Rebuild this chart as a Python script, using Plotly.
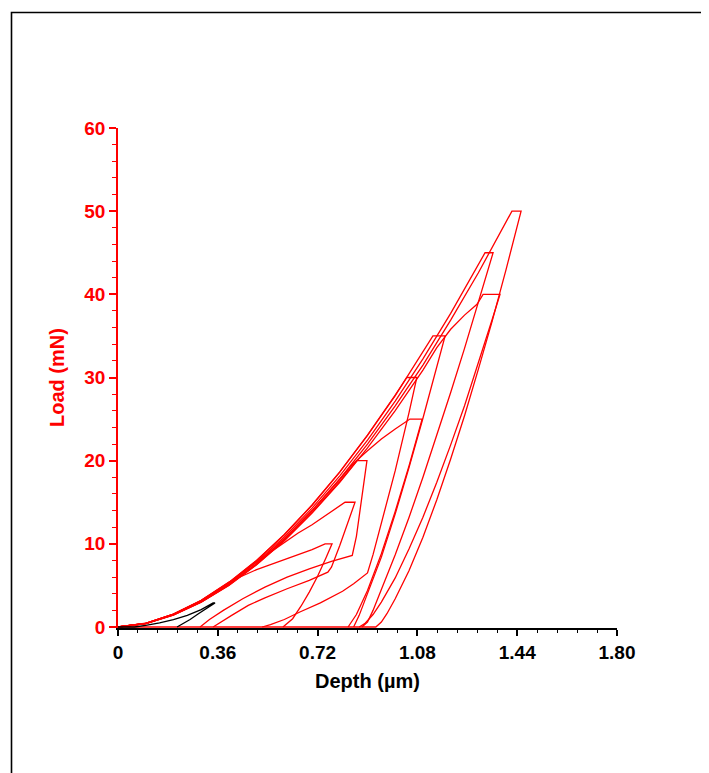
import plotly.graph_objects as go

# ---- data (depth in µm, load in mN) ----
depth_50 = [0, 0.1, 0.2, 0.3, 0.4, 0.5, 0.6, 0.7, 0.8, 0.9, 1.0, 1.1, 1.2, 1.3, 1.421, 1.454,
            1.40, 1.35, 1.30, 1.25, 1.20, 1.15, 1.10, 1.05, 1.00, 0.97, 0.95, 0.93, 0.0]
load_50 = [0, 0.4, 1.5, 3.0, 5.1, 7.6, 10.6, 14.0, 17.8, 22.0, 26.6, 31.5, 36.9, 42.6, 50.0, 50.0,
           43.0, 36.8, 31.0, 25.4, 20.2, 15.3, 10.8, 6.8, 3.4, 1.6, 0.6, 0, 0]

depth_45 = [0, 0.1, 0.2, 0.3, 0.4, 0.5, 0.6, 0.7, 0.8, 0.9, 1.0, 1.1, 1.2, 1.3, 1.324, 1.353,
            1.30, 1.25, 1.20, 1.15, 1.10, 1.05, 1.00, 0.95, 0.92, 0.90, 0.88]
load_45 = [0, 0.43, 1.5, 3.11, 5.22, 7.81, 10.83, 14.29, 18.18, 22.48, 27.16, 32.24, 37.71, 43.56, 45.0, 45.0,
           39.0, 33.5, 28.2, 23.0, 18.0, 13.2, 8.7, 4.5, 2.0, 0.6, 0]

depth_40 = [0, 0.1, 0.2, 0.3, 0.4, 0.5, 0.6, 0.7, 0.8, 0.9, 1.0, 1.1, 1.15, 1.2, 1.25, 1.295, 1.317, 1.378,
            1.35, 1.30, 1.25, 1.20, 1.15, 1.10, 1.05, 1.00, 0.95, 0.92, 0.89, 0.87]
load_40 = [0, 0.41, 1.44, 2.98, 5.0, 7.48, 10.38, 13.69, 17.41, 21.53, 26.02, 30.89, 33.6, 35.8, 37.5, 38.8, 40.0, 40.0,
           37.0, 31.7, 26.6, 21.9, 17.4, 13.2, 9.4, 5.9, 3.0, 1.5, 0.4, 0]

depth_35 = [0, 0.1, 0.2, 0.3, 0.4, 0.5, 0.6, 0.7, 0.8, 0.9, 1.0, 1.1, 1.136, 1.18,
            1.15, 1.10, 1.05, 1.00, 0.95, 0.90, 0.87, 0.85]
load_35 = [0, 0.44, 1.54, 3.19, 5.34, 8.0, 11.1, 14.64, 18.62, 23.03, 27.82, 33.03, 35.0, 35.0,
           31.2, 25.1, 19.2, 13.6, 8.4, 3.9, 1.4, 0]

depth_30 = [0, 0.1, 0.2, 0.3, 0.4, 0.5, 0.6, 0.7, 0.8, 0.9, 1.0, 1.042, 1.078,
            1.05, 1.00, 0.95, 0.92, 0.90, 0.85, 0.81, 0.73, 0.656, 0.60, 0.55, 0.52]
load_30 = [0, 0.44, 1.54, 3.19, 5.36, 8.01, 11.12, 14.67, 18.66, 23.07, 27.88, 30.0, 30.0,
           25.8, 18.8, 12.3, 8.7, 6.5, 5.2, 4.3, 2.9, 1.8, 0.9, 0.3, 0]

depth_25 = [0, 0.1, 0.2, 0.3, 0.4, 0.5, 0.6, 0.7, 0.8, 0.85, 0.9, 0.95, 1.0, 1.053, 1.097,
            1.05, 1.00, 0.95, 0.90, 0.86, 0.83]
load_25 = [0, 0.42, 1.47, 3.04, 5.1, 7.63, 10.59, 13.97, 17.77, 19.7, 21.2, 22.6, 23.8, 25.0, 25.0,
           19.4, 13.9, 8.8, 4.4, 1.5, 0]

depth_20 = [0, 0.1, 0.2, 0.3, 0.4, 0.5, 0.6, 0.7, 0.8, 0.862, 0.898,
            0.88, 0.86, 0.845, 0.77, 0.69, 0.61, 0.53, 0.45, 0.38, 0.33, 0.296]
load_20 = [0, 0.41, 1.45, 2.99, 5.02, 7.52, 10.43, 13.76, 17.5, 20.0, 20.0,
           15.5, 10.9, 8.6, 7.9, 7.0, 6.0, 4.8, 3.4, 2.0, 0.9, 0]

depth_15 = [0, 0.1, 0.2, 0.3, 0.4, 0.5, 0.55, 0.6, 0.65, 0.7, 0.75, 0.819, 0.855,
            0.83, 0.80, 0.77, 0.757, 0.69, 0.61, 0.53, 0.47, 0.41, 0.37, 0.343]
load_15 = [0, 0.43, 1.51, 3.13, 5.25, 7.86, 9.0, 10.2, 11.3, 12.3, 13.4, 15.0, 15.0,
           12.6, 9.8, 7.2, 6.6, 5.6, 4.6, 3.5, 2.6, 1.4, 0.6, 0]

depth_10 = [0, 0.1, 0.2, 0.3, 0.4, 0.45, 0.5, 0.55, 0.6, 0.65, 0.7, 0.747, 0.772,
            0.75, 0.72, 0.69, 0.66, 0.63, 0.595]
load_10 = [0, 0.45, 1.56, 3.22, 5.41, 6.2, 6.9, 7.5, 8.1, 8.7, 9.3, 10.0, 10.0,
           8.3, 6.1, 4.2, 2.5, 1.0, 0]

depth_3 = [0, 0.06, 0.1, 0.15, 0.2, 0.25, 0.3, 0.343, 0.35, 0.32, 0.29, 0.26, 0.235, 0.213]
load_3 = [0, 0, 0.2, 0.5, 0.9, 1.4, 2.1, 2.9, 2.9, 2.3, 1.6, 0.9, 0.4, 0]

x_tick_vals = [0, 0.36, 0.72, 1.08, 1.44, 1.80]
x_tick_text = ["0", "0.36", "0.72", "1.08", "1.44", "1.80"]
y_tick_vals = [0, 10, 20, 30, 40, 50, 60]
y_tick_text = ["0", "10", "20", "30", "40", "50", "60"]

RED = "#ff0000"
curves = [
    (depth_50, load_50, RED), (depth_45, load_45, RED), (depth_40, load_40, RED),
    (depth_35, load_35, RED), (depth_30, load_30, RED), (depth_25, load_25, RED),
    (depth_20, load_20, RED), (depth_15, load_15, RED), (depth_10, load_10, RED),
    (depth_3, load_3, "#000000"),
]

fig = go.Figure()
for d, p, c in curves:
    fig.add_trace(go.Scatter(x=d, y=p, mode="lines", line=dict(color=c, width=1.3),
                             showlegend=False, hoverinfo="skip", cliponaxis=False))

FONT = "Liberation Sans, Arial, sans-serif"
# page body has an 8 px margin: figure origin sits at (8, 8) in the window
W, H = 701, 765
L, T = 110, 120
PW, PH = 499, 500
fig.update_layout(
    width=W, height=H,
    margin=dict(l=L, r=W - L - PW, t=T, b=H - T - PH, pad=0),
    paper_bgcolor="white", plot_bgcolor="white",
    showlegend=False,
    xaxis=dict(range=[0, 1.8], tickvals=x_tick_vals, ticktext=x_tick_text,
               showgrid=False, zeroline=False, showline=True, linecolor="black", linewidth=1.5,
               ticks="outside", ticklen=6, tickwidth=1.5, tickcolor="black",
               tickfont=dict(family=FONT, size=19, color="black", weight="bold"),
               minor=dict(dtick=0.072, tick0=0, ticks="outside", ticklen=3, tickwidth=1.2,
                          tickcolor="black", showgrid=False),
               layer="below traces", fixedrange=True),
    yaxis=dict(range=[-0.12, 60], tickvals=y_tick_vals, ticktext=y_tick_text,
               showgrid=False, zeroline=False, showline=True, linecolor=RED, linewidth=1.5,
               ticks="outside", ticklen=7, tickwidth=1.5, tickcolor=RED,
               tickfont=dict(family=FONT, size=19, color=RED, weight="bold"),
               minor=dict(dtick=2, tick0=0, ticks="outside", ticklen=4, tickwidth=1.2,
                          tickcolor=RED, showgrid=False),
               layer="below traces", fixedrange=True),
    annotations=[
        dict(text="Depth (µm)", xref="paper", yref="paper", x=0.5, y=(620 - 673) / PH,
             showarrow=False, xanchor="center", yanchor="middle",
             font=dict(family=FONT, size=20, color="black", weight="bold")),
        dict(text="Load (mN)", xref="paper", yref="paper", x=(49 - L) / PW, y=0.5,
             showarrow=False, xanchor="center", yanchor="middle", textangle=-90,
             font=dict(family=FONT, size=20, color=RED, weight="bold")),
    ],
    shapes=[
        dict(type="rect", xref="paper", yref="paper",
             x0=(3.5 - L) / PW, x1=(760 - L) / PW,
             y0=(620 - 800) / PH, y1=(620 - 4.5) / PH,
             line=dict(color="black", width=1.6), layer="below"),
    ],
)

fig.write_html("out.html", config={"displayModeBar": False})
